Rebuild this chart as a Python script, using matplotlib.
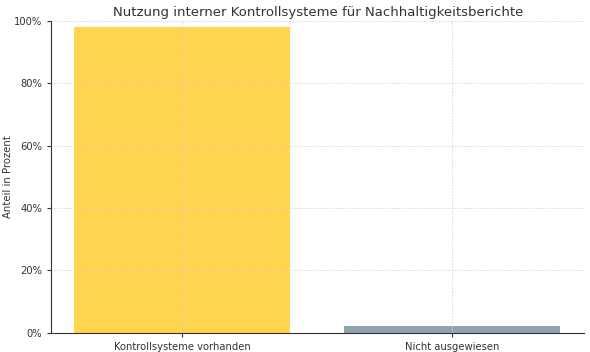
import matplotlib
matplotlib.use("Agg")
import matplotlib.pyplot as plt
from matplotlib.ticker import PercentFormatter

categories = ["Kontrollsysteme vorhanden", "Nicht ausgewiesen"]
values = [98, 2]
colors = ["#FFD54F", "#90A4AE"]

fig, ax = plt.subplots(figsize=(5.9, 3.52), dpi=100)
fig.subplots_adjust(left=0.087, right=0.99, top=0.94, bottom=0.055)

ax.bar(categories, values, width=0.8, color=colors, zorder=1)
ax.set_axisbelow(False)
ax.grid(True, linestyle=(0, (2.5, 2)), color="#cfcfcf", linewidth=0.5, zorder=2)

ax.set_ylim(0, 100)
ax.set_xlim(-0.485, 1.49)
ax.yaxis.set_major_formatter(PercentFormatter(decimals=0))
ax.set_ylabel("Anteil in Prozent", fontsize=7.3, color="#333333")
ax.yaxis.set_label_coords(-0.072, 0.5)
ax.set_title("Nutzung interner Kontrollsysteme für Nachhaltigkeitsberichte",
             fontsize=9.5, color="#333333", pad=4)
ax.tick_params(labelsize=7.2, colors="#333333", length=3)
ax.spines["top"].set_visible(False)
ax.spines["right"].set_visible(False)
ax.spines["left"].set_color("#333333")
ax.spines["bottom"].set_color("#333333")

fig.savefig("out.png", dpi=100)
